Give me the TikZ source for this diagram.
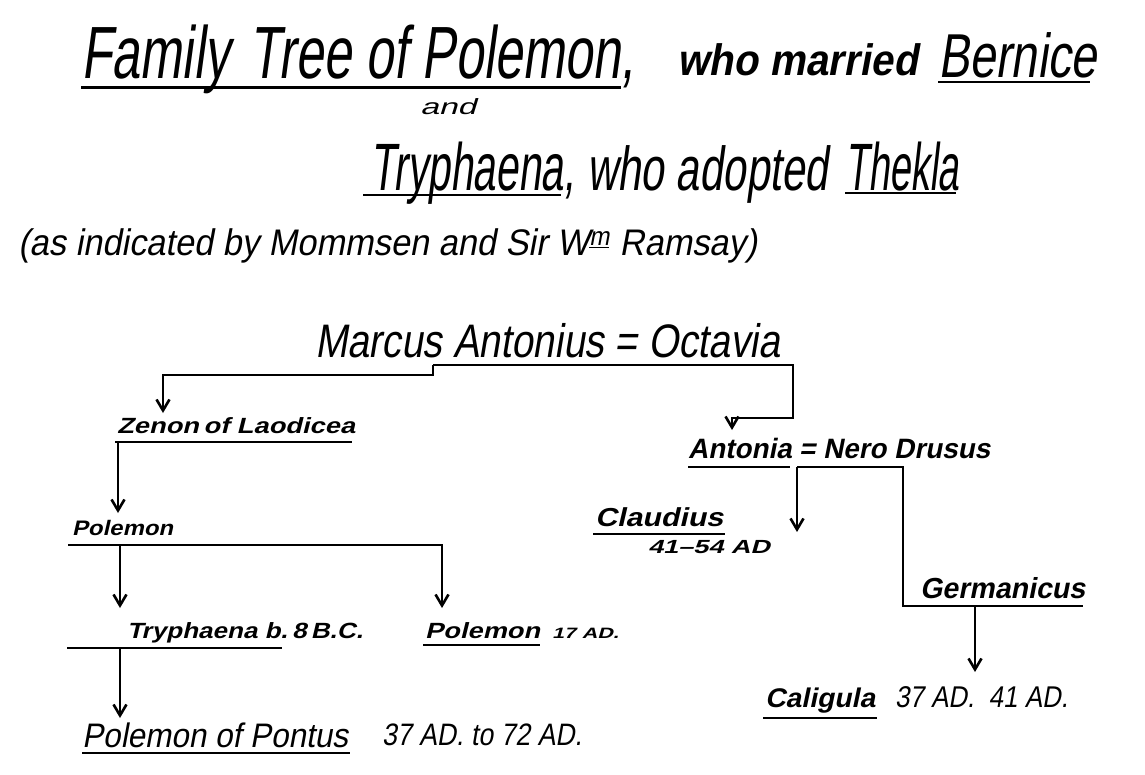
\documentclass[tikz,border=0pt]{standalone}
\usepackage{fontspec}
\usepackage{graphicx}
\setmainfont{Liberation Sans}[FakeSlant=0.2]
\usetikzlibrary{arrows.meta}
\makeatletter
\newsavebox\fitbox
\newdimen\fitdim
\newcommand\fitto[2]{\sbox\fitbox{#2}\fitdim=\wd\fitbox\scalebox{\fpeval{#1/\strip@pt\fitdim}}[1]{\usebox\fitbox}}
\makeatother
\newcommand\fs[1]{\fontsize{#1}{#1}\selectfont}
\begin{document}
\begin{tikzpicture}[x=1pt,y=-1pt,
  lab/.style={anchor=base west, inner sep=0pt, outer sep=0pt},
  rule/.style={line width=2.8pt},
  link/.style={line width=2.8pt},
  arr/.style={line width=2.8pt, -{Straight Barb[length=11pt,width=13pt,line width=2.6pt]}}]
\useasboundingbox[fill=white] (0,0) rectangle (1145,774);

% ---------- heading ----------
\node[lab, font=\fs{74}] (fam) at (81,78) {\fitto{554}{Family\hspace{0.4em}Tree of Polemon,}};
\node[lab, font=\fs{44}\bfseries] (whom) at (677,75) {\fitto{241}{who married}};
\node[lab, font=\fs{62}] (bern) at (938,77) {\fitto{159}{Bernice}};
\node[lab, font=\fs{22}] (and) at (420,114) {\fitto{56}{and}};
\node[lab, font=\fs{67}] (tryh) at (370,190) {\fitto{205}{Tryphaena,}};
\node[lab, font=\fs{62}] (whoa) at (587,190) {\fitto{241}{who adopted}};
\node[lab, font=\fs{67}] (thek) at (845,190) {\fitto{114}{Thekla}};
\node[lab, font=\fs{37}] (asind) at (18,255) {\fitto{739}{(as indicated by Mommsen and Sir W\textsuperscript{\underline{m}} Ramsay)}};

\draw[rule, line width=3pt] (fam.base west)+(0,9) -- (621,87);
\draw[rule] (938,82) -- (1090,82);
\draw[rule] (363,195) -- (561,195);
\draw[rule] (845,193) -- (956,193);

% ---------- tree ----------
\node[lab, font=\fs{47}] (ma) at (315,357) {\fitto{465}{Marcus Antonius = Octavia}};

\node[lab, font=\fs{22}\bfseries] (zen) at (117,433) {\fitto{238}{Zenon\,of Laodicea}};
\node[lab, font=\fs{21}\bfseries] (pol1) at (72,535) {\fitto{101}{Polemon}};
\node[lab, font=\fs{22}\bfseries] (tryb) at (127,638) {\fitto{236}{Tryphaena b.\,8\,B.C.}};
\node[lab, font=\fs{22}\bfseries] (pol2) at (425,638) {\fitto{115}{Polemon}};
\node[lab, font=\fs{15}\bfseries] (pol2d) at (552,638) {\fitto{67}{17 AD.}};
\node[lab, font=\fs{34}] (pont) at (82,747) {\fitto{266}{Polemon of Pontus}};
\node[lab, font=\fs{31}] (pontd) at (382,745) {\fitto{200}{37 AD. to 72 AD.}};

\node[lab, font=\fs{28}\bfseries] (ant) at (688,458) {\fitto{302}{Antonia = Nero Drusus}};
\node[lab, font=\fs{26}\bfseries] (cla) at (595,526) {\fitto{128}{Claudius}};
\node[lab, font=\fs{19}\bfseries] (clad) at (648,553) {\fitto{122}{41--54 AD}};
\node[lab, font=\fs{29}\bfseries] (ger) at (920,598) {\fitto{165}{Germanicus}};
\node[lab, font=\fs{27}\bfseries] (cal) at (765,707) {\fitto{110}{Caligula}};
\node[lab, font=\fs{30}] (cald) at (895,707) {\fitto{173}{37 AD.\ \ 41 AD.}};

% underlines
\draw[rule] (115,442) -- (352,442);
\draw[rule] (67,648) -- (282,648);
\draw[rule] (423,645) -- (540,645);
\draw[rule] (82,753) -- (350,753);
\draw[rule] (688,467) -- (790,467);
\draw[rule] (593,534) -- (725,534);
\draw[rule] (763,718) -- (877,718);

% junction coordinates
\coordinate (maj) at (433,365);
\coordinate (zenin) at (163,413);
\coordinate (antin) at (732,430);
\coordinate (zenj) at (118,442);
\coordinate (pol1in) at (118,513);
\coordinate (pol1l) at (68,545);
\coordinate (pol1j) at (120,545);
\coordinate (trybin) at (120,608);
\coordinate (pol2in) at (442,608);
\coordinate (trybj) at (120,648);
\coordinate (pontin) at (120,718);
\coordinate (antj) at (797,467);
\coordinate (clain) at (797,532);
\coordinate (gerj) at (975,606);
\coordinate (calin) at (975,672);

% connectors
\draw[arr] (maj) -- (433,375) -| (zenin);
\draw[arr] (maj) -- (793,365) -- (793,418) -| (antin);
\draw[arr] (zenj) -- (pol1in);
\draw[arr] (pol1l) -| (pol2in);
\draw[arr] (pol1j) -- (trybin);
\draw[arr] (trybj) -- (pontin);
\draw[arr] (antj) -- (clain);
\draw[link] (antj) -- (903,467) -- (903,606) -- (1083,606);
\draw[arr] (gerj) -- (calin);
\end{tikzpicture}
\end{document}
